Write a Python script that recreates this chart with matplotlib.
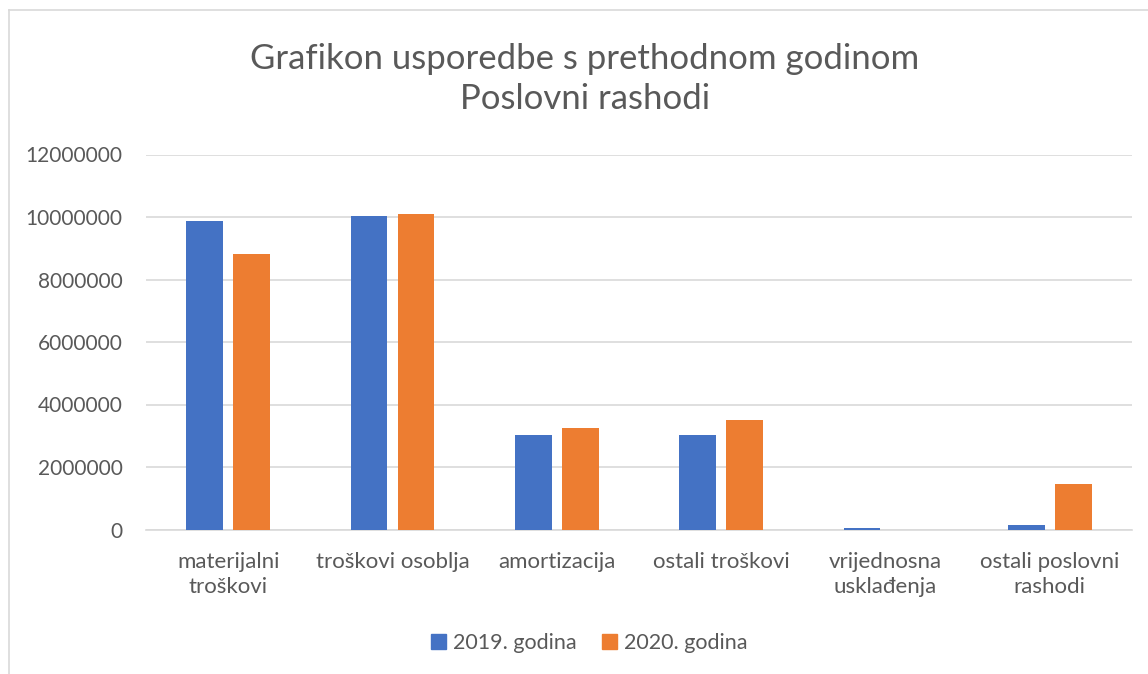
import matplotlib
matplotlib.use("Agg")
import matplotlib.pyplot as plt
import numpy as np
from matplotlib.lines import Line2D
from matplotlib.patches import Patch

categories = ["materijalni\ntroškovi", "troškovi osoblja", "amortizacija",
              "ostali troškovi", "vrijednosna\nusklađenja", "ostali poslovni\nrashodi"]
values_2019 = [9870000, 10030000, 3020000, 3020000, 50000, 140000]
values_2020 = [8810000, 10110000, 3260000, 3500000, 0, 1450000]
series_names = ["2019. godina", "2020. godina"]
yticks = [0, 2000000, 4000000, 6000000, 8000000, 10000000, 12000000]
title_text = "Grafikon usporedbe s prethodnom godinom\nPoslovni rashodi"

BLUE = "#4472C4"
ORANGE = "#ED7D31"
GRID = "#D9D9D9"
TEXT = "#595959"
FONT = "Lato"

W, H = 1148, 674
fig = plt.figure(figsize=(W / 100, H / 100), dpi=100)
fig.patch.set_facecolor("white")

# chart border (left and top visible)
fig.add_artist(Line2D([8.5 / W, 8.5 / W], [0, 1 - 10 / H], transform=fig.transFigure,
                      color=GRID, lw=1.2))
fig.add_artist(Line2D([8.5 / W, 1], [1 - 10 / H, 1 - 10 / H], transform=fig.transFigure,
                      color=GRID, lw=1.2))

left, right = 146 / W, 1132 / W
bottom, top = (H - 529.5) / H, (H - 154.5) / H
ax = fig.add_axes([left, bottom, right - left, top - bottom])

x = np.arange(len(categories))
bw = 0.225
off = 0.143
ax.bar(x - off, values_2019, bw, color=BLUE, label=series_names[0], zorder=3)
ax.bar(x + off, values_2020, bw, color=ORANGE, label=series_names[1], zorder=3)

ax.set_xlim(-0.5, len(categories) - 0.5)
ax.set_ylim(0, 12000000)
ax.set_yticks(yticks)
ax.set_yticklabels([str(v) for v in yticks], fontfamily=FONT, fontsize=15, color=TEXT)
ax.set_xticks(x)
ax.set_xticklabels(categories, fontfamily=FONT, fontsize=16, color=TEXT, linespacing=1.3)
ax.tick_params(axis="y", length=0, pad=17)
ax.tick_params(axis="x", length=0, pad=16)
ax.grid(axis="y", color=GRID, lw=1.2, zorder=0)
for s in ["top", "right", "left"]:
    ax.spines[s].set_visible(False)
ax.spines["bottom"].set_color(GRID)
ax.spines["bottom"].set_linewidth(1.2)
ax.set_facecolor("white")

fig.text(585 / W, 1 - 79 / H, title_text, ha="center", va="center",
         fontfamily=FONT, fontsize=25, color=TEXT, linespacing=1.3)

handles = [Patch(color=BLUE), Patch(color=ORANGE)]
fig.legend(handles, series_names, loc="center", bbox_to_anchor=(589 / W, 1 - 643 / H),
           ncol=2, frameon=False, prop={"family": FONT, "size": 15.5},
           labelcolor=TEXT, handlelength=0.7, handleheight=0.7, handletextpad=0.3,
           columnspacing=1.2)

fig.savefig("out.png", dpi=100, facecolor="white")
